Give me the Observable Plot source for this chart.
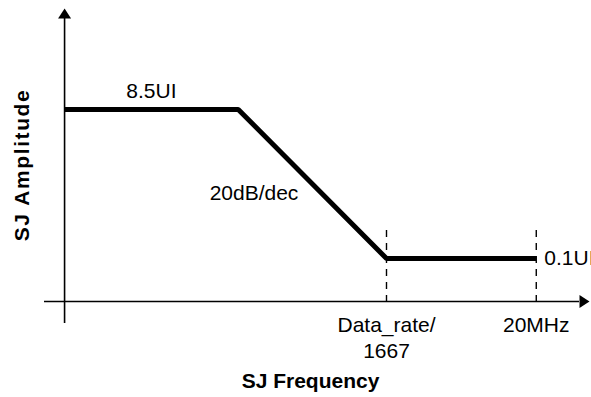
<!DOCTYPE html>
<html>
<head>
<meta charset="utf-8">
<script src="https://cdn.jsdelivr.net/npm/d3@7"></script>
<script src="https://cdn.jsdelivr.net/npm/@observablehq/plot@0.6"></script>
<style>
  html, body { margin: 0; padding: 0; background: #fff; }
  #chart svg { display: block; }
</style>
</head>
<body>
<div id="chart"></div>
<script>
// ---- data ----
// frequency positions in decades from the origin (schematic log-frequency axis)
const pointFreq = [0, 2.25, 4.17, 6.11];
// SJ amplitude in UI at those points (log amplitude axis)
const pointAmp = [8.5, 8.5, 0.1, 0.1];
const ampLabels = ["8.5UI", "0.1UI"];
const slopeLabel = "20dB/dec";
const freqTicks = [4.17, 6.11];
const freqTickLabels = ["Data_rate/\n1667", "20MHz"];
const xTitle = "SJ Frequency";
const yTitle = "SJ Amplitude";
// axis extents
const xDomain = [-0.26, 6.67];
const yDomain = [0.0144, 128];
const xAxisAmp = 0.0277;          // amplitude where the frequency axis sits
const dashAmp = [0.027, 0.245];   // vertical extent of the dashed markers

const curve = pointFreq.map((f, i) => ({f, a: pointAmp[i]}));
const font = "Liberation Sans, Arial, Helvetica, sans-serif";
const fs = 21;

// filled triangular arrow head
const arrowHead = {
  draw(ctx) {
    ctx.moveTo(0, -10);
    ctx.lineTo(6.5, 0);
    ctx.lineTo(-6.5, 0);
    ctx.closePath();
  }
};

const chart = Plot.plot({
  width: 591,
  height: 397,
  marginLeft: 44,
  marginRight: 12,
  marginTop: 18,
  marginBottom: 74,
  style: {fontFamily: font, background: "#fff", overflow: "visible"},
  x: {type: "linear", domain: xDomain, axis: null},
  y: {type: "log", domain: yDomain, axis: null},
  marks: [
    // axes
    Plot.ruleX([0], {stroke: "black", strokeWidth: 1.6}),
    Plot.ruleY([xAxisAmp], {stroke: "black", strokeWidth: 1.6}),
    Plot.dot([0], {x: d => d, frameAnchor: "top", symbol: arrowHead, fill: "black", stroke: "none"}),
    Plot.dot([xAxisAmp], {y: d => d, frameAnchor: "right", symbol: arrowHead, rotate: 90, fill: "black", stroke: "none"}),
    // dashed frequency markers
    Plot.ruleX(freqTicks, {y1: dashAmp[0], y2: dashAmp[1], stroke: "black", strokeWidth: 1.4, strokeDasharray: "7,6"}),
    // SJ mask
    Plot.line(curve, {x: "f", y: "a", stroke: "black", strokeWidth: 5, strokeLinejoin: "miter", strokeLinecap: "butt"}),
    // level labels
    Plot.text([ampLabels[0]], {x: (pointFreq[0] + pointFreq[1]) / 2, y: pointAmp[0], text: d => d, dy: -18, fontSize: fs, fontFamily: font, fill: "black"}),
    Plot.text([ampLabels[1]], {x: pointFreq[3], y: pointAmp[3], text: d => d, textAnchor: "start", dx: 8, fontSize: fs, fontFamily: font, fill: "black"}),
    Plot.text([slopeLabel], {x: (pointFreq[1] + pointFreq[2]) / 2, y: Math.sqrt(pointAmp[1] * pointAmp[2]), text: d => d, textAnchor: "end", dx: -14, dy: 9, fontSize: fs, fontFamily: font, fill: "black"}),
    // frequency tick labels
    Plot.text(freqTicks, {x: d => d, y: xAxisAmp, text: (d, i) => freqTickLabels[i], textAnchor: "middle", lineAnchor: "top", lineHeight: 1.24, dy: 12, fontSize: fs, fontFamily: font, fill: "black"}),
    // axis titles
    Plot.text([xTitle], {frameAnchor: "bottom", text: d => d, textAnchor: "middle", lineAnchor: "middle", dx: -1.5, dy: 58, fontSize: fs, fontWeight: "bold", fontFamily: font, fill: "black"}),
    Plot.text([yTitle], {frameAnchor: "left", text: d => d, rotate: -90, textAnchor: "middle", lineAnchor: "middle", dx: -22, dy: -6, fontSize: fs, fontWeight: "bold", fontFamily: font, fill: "black"})
  ]
});
// the reference's rotated title is set a little wider
d3.select(chart).selectAll("text").filter(function() { return this.textContent === yTitle; })
  .style("letter-spacing", "1.6px");
document.getElementById("chart").appendChild(chart);
</script>
</body>
</html>
